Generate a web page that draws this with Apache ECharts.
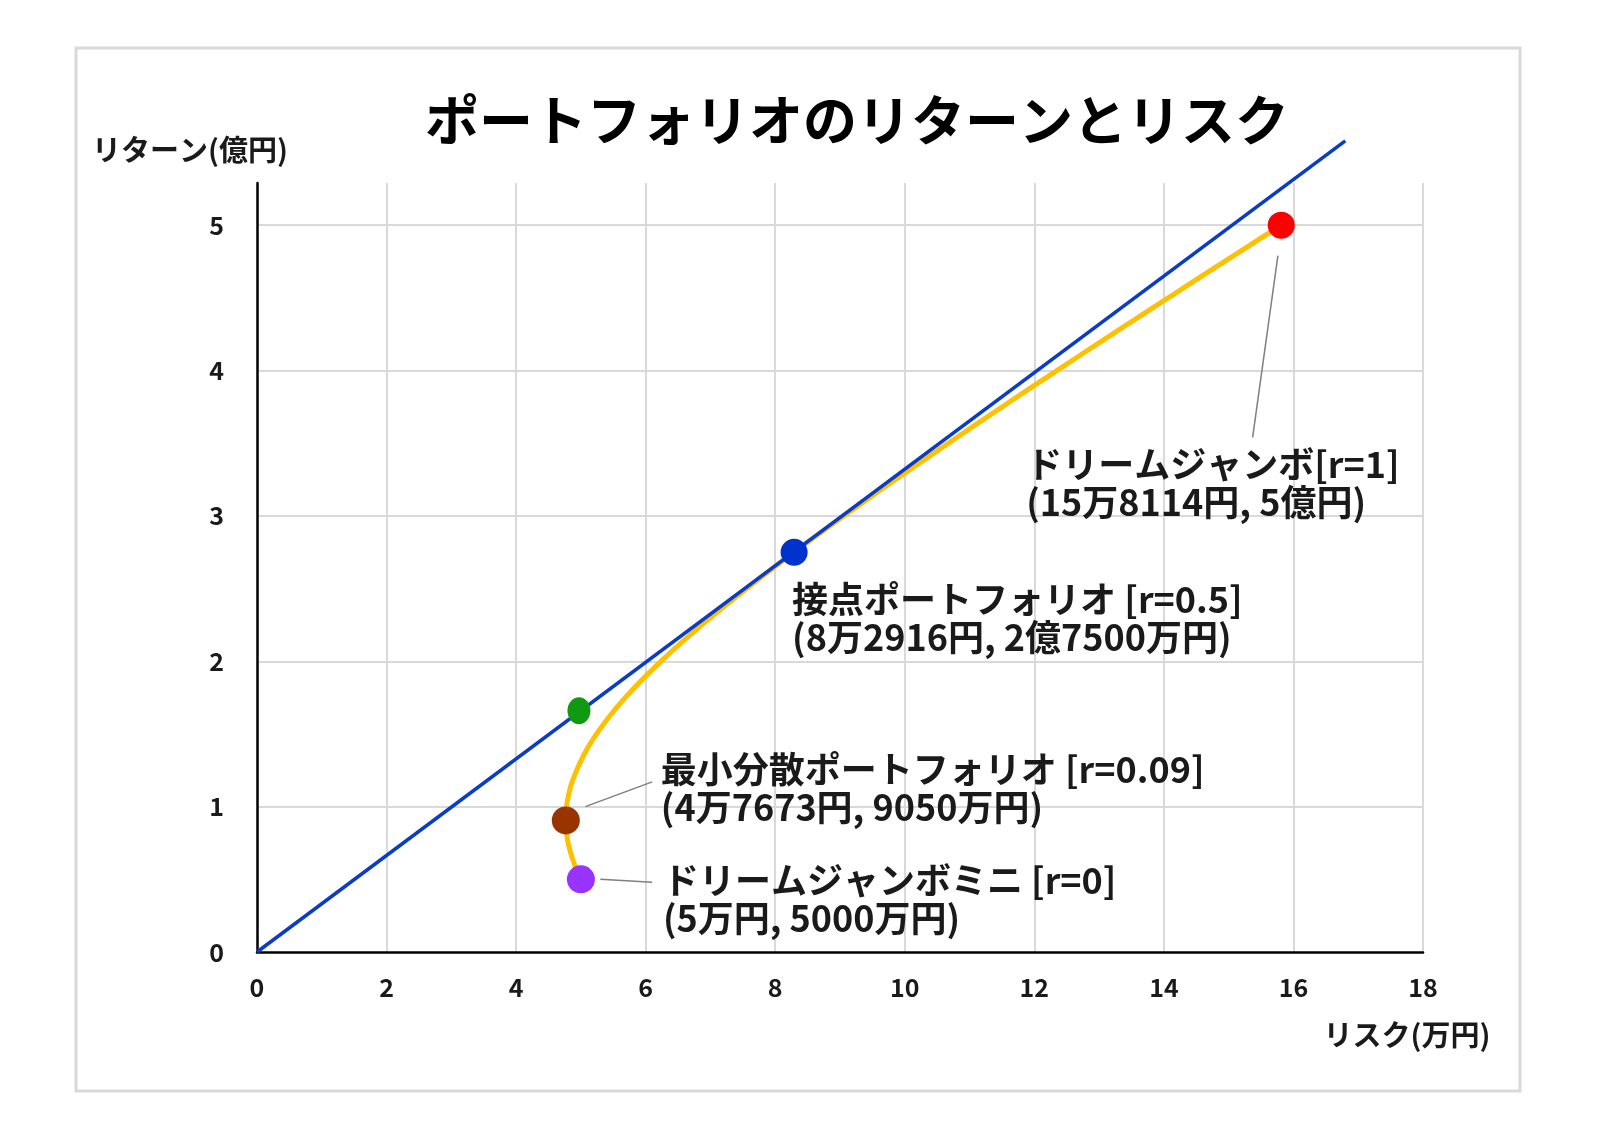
<!DOCTYPE html>
<html>
<head>
<meta charset="utf-8">
<title>ポートフォリオのリターンとリスク</title>
<script src="https://cdn.jsdelivr.net/npm/echarts@6/dist/echarts.min.js"></script>
<style>
    html, body { margin: 0; padding: 0; background: #fff; }
    #chart { width: 1597px; height: 1129px; }
</style>
</head>
<body>
<div id="chart"></div>
<script>
// 効率的フロンティア（リスク: 万円, リターン: 億円）
const frontierRisk = [5.0000, 4.9102, 4.8153, 4.7799, 4.7673, 4.7697, 4.7917, 4.8670, 5.0990, 5.4486,
    5.8949, 6.4178, 7.0000, 7.6281, 8.2916, 8.9826, 9.6954, 10.4253, 11.1692, 11.9243,
    12.6886, 13.4606, 14.2390, 15.0229, 15.8114];
const frontierReturn = [0.500, 0.590, 0.725, 0.815, 0.905, 0.950, 1.040, 1.175, 1.400, 1.625,
    1.850, 2.075, 2.300, 2.525, 2.750, 2.975, 3.200, 3.425, 3.650, 3.875,
    4.100, 4.325, 4.550, 4.775, 5.000];

// 接線（原点から接点ポートフォリオを通る直線）
const tangentRisk = [0, 16.8];
const tangentReturn = [0, 5.58];

// 代表ポートフォリオ
const pointRisk = [5.0, 4.7673, 8.2916, 15.8114, 4.97];
const pointReturn = [0.5, 0.905, 2.75, 5.0, 1.66];
const pointColors = ['#9933ff', '#993300', '#0033cc', '#ff0000', '#119a11'];
const labelTitle = ['ドリームジャンボミニ [r=0]', '最小分散ポートフォリオ [r=0.09]', '接点ポートフォリオ [r=0.5]', 'ドリームジャンボ[r=1]', ''];
const labelValue = ['(5万円, 5000万円)', '(4万7673円, 9050万円)', '(8万2916円, 2億7500万円)', '(15万8114円, 5億円)', ''];

// 引き出し線
const leaderMini = [[5.30, 0.50], [6.10, 0.48]];
const leaderMinVar = [[5.07, 1.00], [6.10, 1.17]];
const leaderJumbo = [[15.76, 4.79], [15.37, 3.54]];

const FONT = '"Noto Sans CJK JP", "Noto Sans", sans-serif';

// ラベル位置（点からのずれ, px）
const labelOffsets = [[82, 20], [95, -32], [-2, 66], [-255, 258], [0, 0]];
const symbolSizes = [28, 28, 27, 27, [23, 27]];

const chart = echarts.init(document.getElementById('chart'));

const pointData = pointRisk.map((x, i) => ({
    value: [x, pointReturn[i]],
    symbolSize: symbolSizes[i],
    itemStyle: { color: pointColors[i], opacity: 1 },
    label: {
        show: labelTitle[i] !== '',
        position: 'inside',
        align: 'left',
        verticalAlign: 'middle',
        offset: labelOffsets[i],
        formatter: labelTitle[i] + '\n' + labelValue[i],
        fontFamily: FONT,
        fontSize: 36,
        lineHeight: 38,
        fontWeight: 'bold',
        color: '#1a1a1a'
    }
}));

function leaderSeries(points) {
    return {
        type: 'line',
        data: points,
        symbol: 'none',
        silent: true,
        lineStyle: { color: '#7f7f7f', width: 1.5 },
        z: 3
    };
}

const option = {
    animation: false,
    backgroundColor: '#fff',
    title: {
        text: 'ポートフォリオのリターンとリスク',
        left: 852,
        top: 88,
        textAlign: 'center',
        textStyle: { fontFamily: FONT, fontSize: 54, fontWeight: 'bold', color: '#000' }
    },
    graphic: [
        {
            type: 'rect',
            shape: { x: 76, y: 48, width: 1444, height: 1043 },
            style: { fill: 'none', stroke: '#d9d9d9', lineWidth: 3 },
            z: -1
        },
        {
            type: 'text',
            x: 190, y: 150,
            style: {
                text: 'リターン(億円)', font: 'bold 29px ' + FONT, fill: '#1a1a1a',
                textAlign: 'center', textVerticalAlign: 'middle'
            }
        },
        {
            type: 'text',
            x: 1407, y: 1035,
            style: {
                text: 'リスク(万円)', font: 'bold 29px ' + FONT, fill: '#1a1a1a',
                textAlign: 'center', textVerticalAlign: 'middle'
            }
        }
    ],
    grid: { left: 257, right: 174, top: 183, bottom: 177, containLabel: false },
    xAxis: {
        type: 'value',
        min: 0, max: 18, interval: 2,
        axisLine: { show: true, onZero: false, lineStyle: { color: '#000', width: 2.5 } },
        axisTick: { show: false },
        axisLabel: { margin: 23, fontFamily: FONT, fontSize: 25, fontWeight: 'bold', color: '#1a1a1a' },
        splitLine: { show: true, showMinLine: false, lineStyle: { color: '#d9d9d9', width: 2 } }
    },
    yAxis: {
        type: 'value',
        min: 0, max: 5.29, interval: 1,
        axisLine: { show: true, onZero: false, lineStyle: { color: '#000', width: 2.5 } },
        axisTick: { show: false },
        axisLabel: {
            margin: 33, fontFamily: FONT, fontSize: 25, fontWeight: 'bold', color: '#1a1a1a',
            showMaxLabel: false,
            formatter: v => (Number.isInteger(v) ? String(v) : '')
        },
        splitLine: { show: true, showMinLine: false, showMaxLine: false, lineStyle: { color: '#d9d9d9', width: 2 } }
    },
    series: [
        {
            name: 'フロンティア',
            type: 'line',
            data: frontierRisk.map((x, i) => [x, frontierReturn[i]]),
            smooth: 0.3,
            symbol: 'none',
            lineStyle: { color: '#ffc000', width: 5 },
            z: 2
        },
        {
            name: '接線',
            type: 'line',
            data: tangentRisk.map((x, i) => [x, tangentReturn[i]]),
            symbol: 'none',
            clip: false,
            lineStyle: { color: '#0a3cc8', width: 3.5 },
            z: 2
        },
        leaderSeries(leaderMini),
        leaderSeries(leaderMinVar),
        leaderSeries(leaderJumbo),
        {
            name: 'ポートフォリオ',
            type: 'scatter',
            data: pointData,
            z: 5
        }
    ]
};

chart.setOption(option);
</script>
</body>
</html>
